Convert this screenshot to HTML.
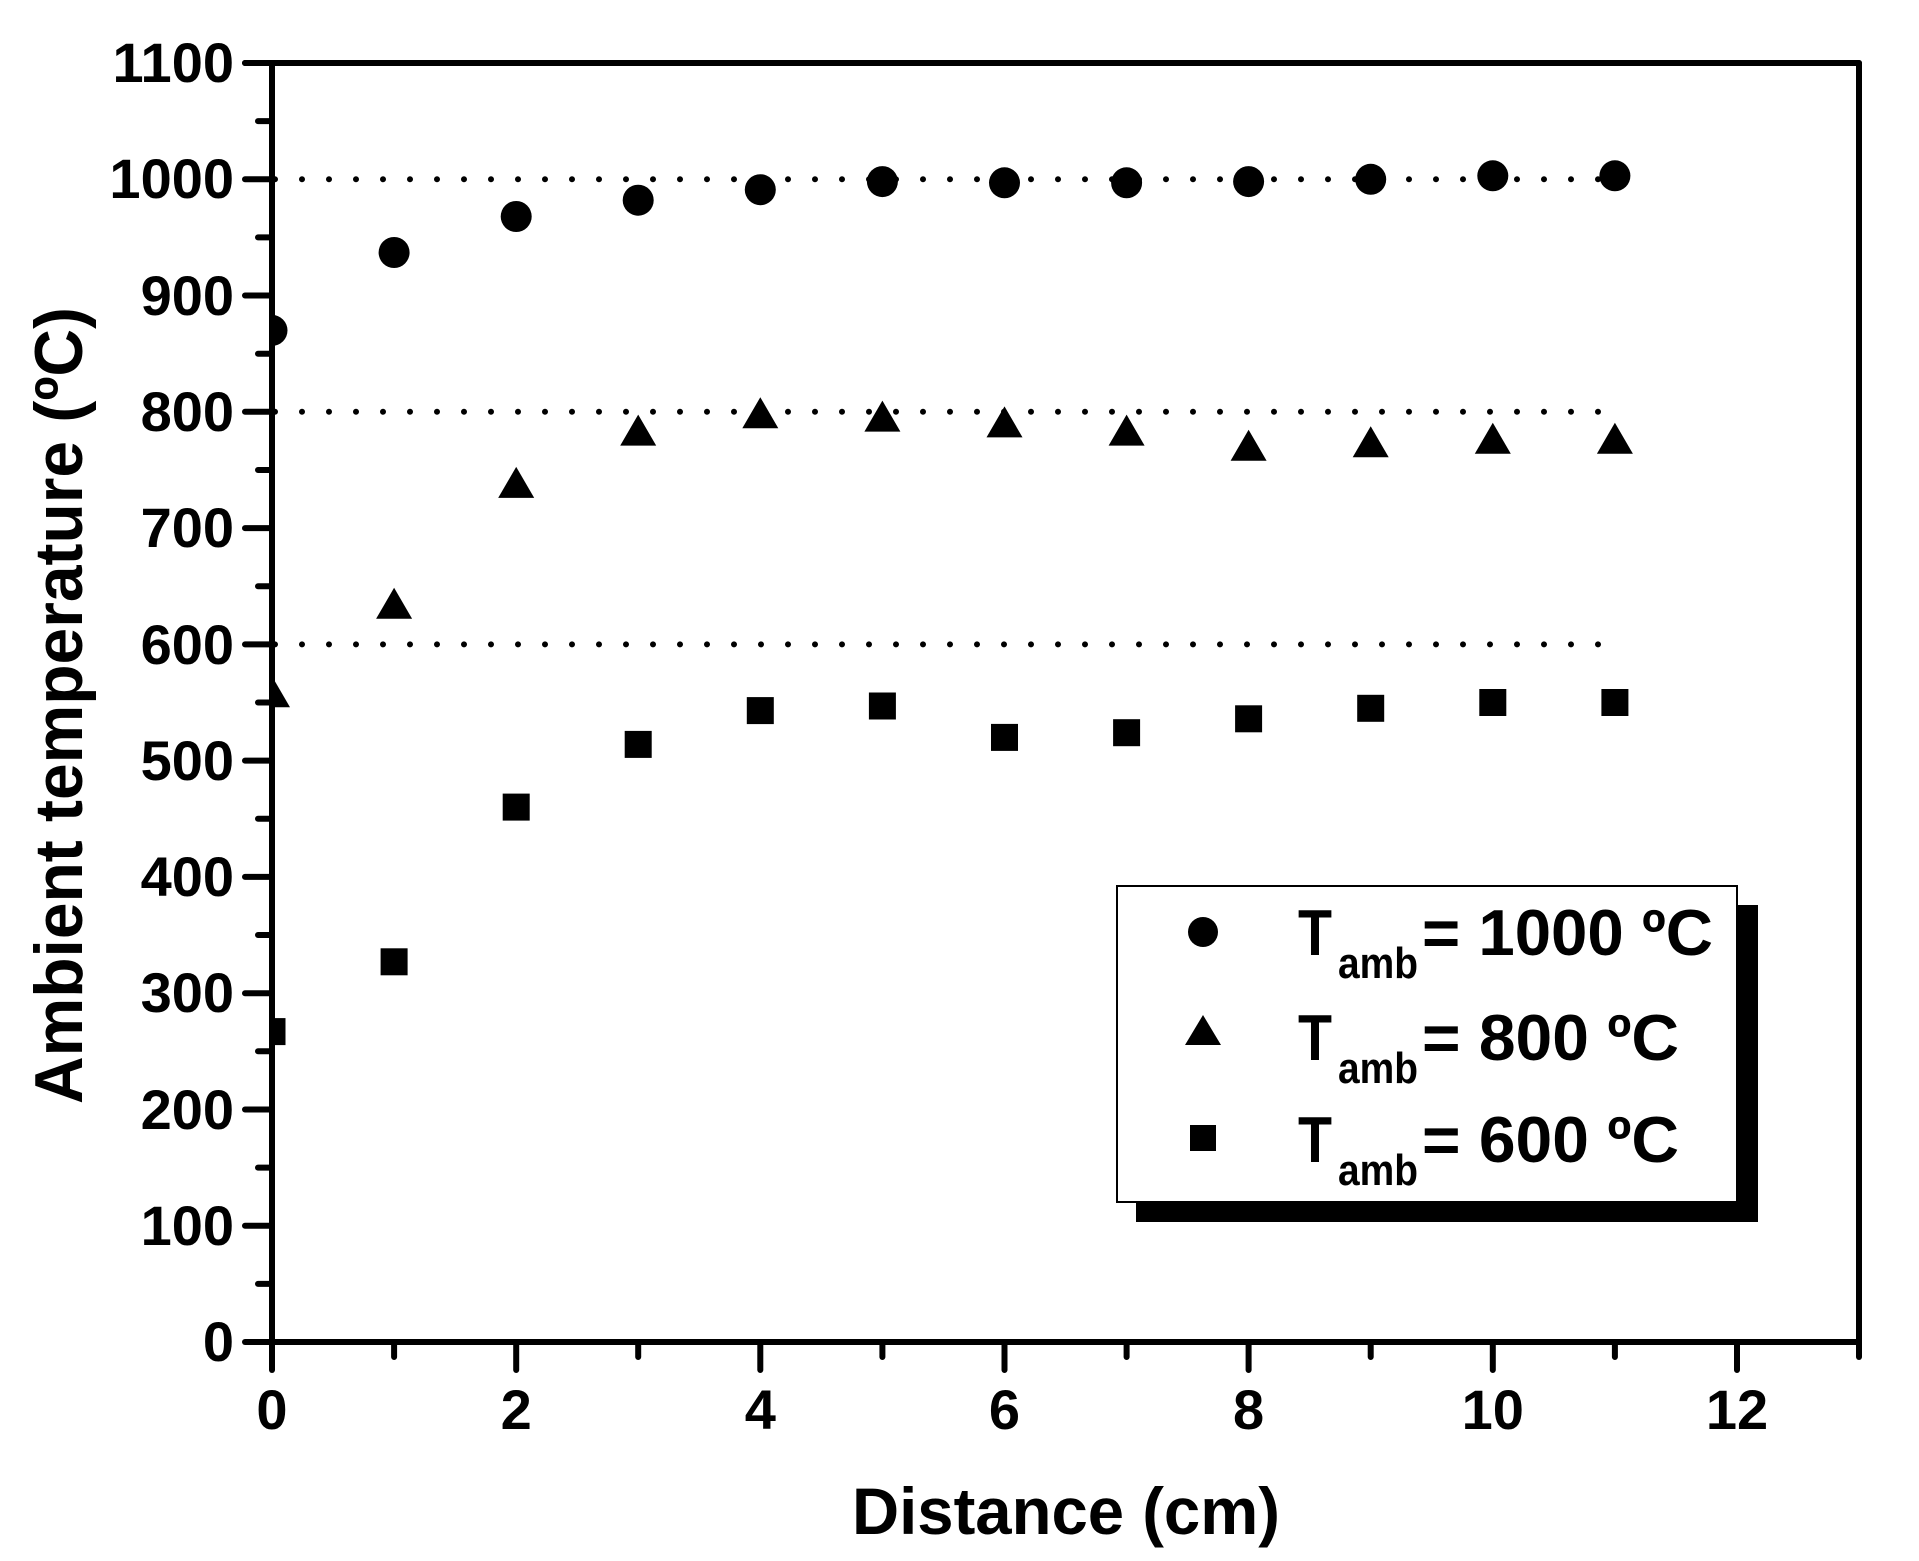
<!DOCTYPE html>
<html><head><meta charset="utf-8"><style>html,body{margin:0;padding:0;background:#fff}svg{display:block}</style></head>
<body>
<svg width="1919" height="1561" viewBox="0 0 1919 1561" xmlns="http://www.w3.org/2000/svg" font-family="'Liberation Sans', Arial, sans-serif" font-weight="bold">
<rect width="1919" height="1561" fill="#fff"/>
<defs><clipPath id="pc"><rect x="272" y="63" width="1587" height="1279"/></clipPath></defs>
<g stroke="#000" stroke-width="6" stroke-linecap="round" stroke-dasharray="0 27">
<line x1="275" y1="179.3" x2="1615" y2="179.3"/>
<line x1="275" y1="411.8" x2="1615" y2="411.8"/>
<line x1="275" y1="644.4" x2="1615" y2="644.4"/>
</g>
<g clip-path="url(#pc)" fill="#000">
<circle cx="272" cy="330.4" r="15.5"/><circle cx="394.1" cy="252.5" r="15.5"/><circle cx="516.2" cy="216.5" r="15.5"/><circle cx="638.2" cy="200.2" r="15.5"/><circle cx="760.3" cy="189.7" r="15.5"/><circle cx="882.4" cy="181.6" r="15.5"/><circle cx="1004.5" cy="182.8" r="15.5"/><circle cx="1126.6" cy="182.8" r="15.5"/><circle cx="1248.6" cy="181.6" r="15.5"/><circle cx="1370.7" cy="179.3" r="15.5"/><circle cx="1492.8" cy="175.8" r="15.5"/><circle cx="1614.9" cy="175.8" r="15.5"/>
<polygon points="254,707.2 290,707.2 272,676.2"/>
<polygon points="376.1,618.8 412.1,618.8 394.1,587.8"/>
<polygon points="498.2,497.9 534.2,497.9 516.2,466.9"/>
<polygon points="620.2,445.6 656.2,445.6 638.2,414.6"/>
<polygon points="742.3,428.2 778.3,428.2 760.3,397.2"/>
<polygon points="864.4,431.6 900.4,431.6 882.4,400.6"/>
<polygon points="986.5,437.4 1022.5,437.4 1004.5,406.4"/>
<polygon points="1108.6,445.6 1144.6,445.6 1126.6,414.6"/>
<polygon points="1230.6,460.7 1266.6,460.7 1248.6,429.7"/>
<polygon points="1352.7,457.2 1388.7,457.2 1370.7,426.2"/>
<polygon points="1474.8,453.7 1510.8,453.7 1492.8,422.7"/>
<polygon points="1596.9,453.7 1632.9,453.7 1614.9,422.7"/>
<rect x="258.5" y="1018.1" width="27" height="27"/><rect x="380.6" y="948.3" width="27" height="27"/><rect x="502.7" y="793.6" width="27" height="27"/><rect x="624.7" y="730.9" width="27" height="27"/><rect x="746.8" y="697.1" width="27" height="27"/><rect x="868.9" y="692.5" width="27" height="27"/><rect x="991" y="723.9" width="27" height="27"/><rect x="1113.1" y="719.2" width="27" height="27"/><rect x="1235.1" y="705.3" width="27" height="27"/><rect x="1357.2" y="694.8" width="27" height="27"/><rect x="1479.3" y="689" width="27" height="27"/><rect x="1601.4" y="689" width="27" height="27"/>
</g>
<g stroke="#000" stroke-width="6" stroke-linecap="round" fill="none">
<line x1="245" y1="63" x2="1859" y2="63"/>
<line x1="272" y1="63" x2="272" y2="1370"/>
<line x1="1859" y1="63" x2="1859" y2="1357"/>
<line x1="245" y1="1342" x2="1859" y2="1342"/>
<path d="M245 63H272M258 121.1H272M245 179.3H272M258 237.4H272M245 295.5H272M258 353.7H272M245 411.8H272M258 470H272M245 528.1H272M258 586.2H272M245 644.4H272M258 702.5H272M245 760.6H272M258 818.8H272M245 876.9H272M258 935H272M245 993.2H272M258 1051.3H272M245 1109.5H272M258 1167.6H272M245 1225.7H272M258 1283.9H272"/>
<path d="M394.1 1342V1357M516.2 1342V1370M638.2 1342V1357M760.3 1342V1370M882.4 1342V1357M1004.5 1342V1370M1126.6 1342V1357M1248.6 1342V1370M1370.7 1342V1357M1492.8 1342V1370M1614.9 1342V1357M1737 1342V1370"/>
</g>
<g font-size="56" text-anchor="end" fill="#000">
<text x="234" y="82">1100</text><text x="234" y="198">1000</text><text x="234" y="315">900</text><text x="234" y="431">800</text><text x="234" y="547">700</text><text x="234" y="664">600</text><text x="234" y="780">500</text><text x="234" y="896">400</text><text x="234" y="1012">300</text><text x="234" y="1129">200</text><text x="234" y="1245">100</text><text x="234" y="1361">0</text>
</g>
<g font-size="56" text-anchor="middle" fill="#000">
<text x="272" y="1429">0</text><text x="516.2" y="1429">2</text><text x="760.3" y="1429">4</text><text x="1004.5" y="1429">6</text><text x="1248.6" y="1429">8</text><text x="1492.8" y="1429">10</text><text x="1737" y="1429">12</text>
</g>
<text x="852" y="1534" font-size="66" textLength="428" lengthAdjust="spacingAndGlyphs">Distance (cm)</text>
<text transform="translate(82,1104) rotate(-90)" x="0" y="0" font-size="68" textLength="797" lengthAdjust="spacingAndGlyphs">Ambient temperature (ºC)</text>
<rect x="1136" y="905" width="622" height="317" fill="#000"/>
<rect x="1117" y="886" width="620" height="316" fill="#fff" stroke="#000" stroke-width="2"/>
<circle cx="1203" cy="932" r="15"/>
<polygon points="1185,1045 1221,1045 1203,1015"/>
<rect x="1190" y="1125" width="26" height="26"/>
<g fill="#000">
<text x="1298" y="955" font-size="65" textLength="34" lengthAdjust="spacingAndGlyphs">T</text>
<text x="1338" y="978" font-size="44" textLength="80" lengthAdjust="spacingAndGlyphs">amb</text>
<text x="1422" y="955" font-size="65" textLength="291" lengthAdjust="spacingAndGlyphs">= 1000 ºC</text>
<text x="1298" y="1060" font-size="65" textLength="34" lengthAdjust="spacingAndGlyphs">T</text>
<text x="1338" y="1083" font-size="44" textLength="80" lengthAdjust="spacingAndGlyphs">amb</text>
<text x="1422" y="1060" font-size="65" textLength="257" lengthAdjust="spacingAndGlyphs">= 800 ºC</text>
<text x="1298" y="1162" font-size="65" textLength="34" lengthAdjust="spacingAndGlyphs">T</text>
<text x="1338" y="1185" font-size="44" textLength="80" lengthAdjust="spacingAndGlyphs">amb</text>
<text x="1422" y="1162" font-size="65" textLength="257" lengthAdjust="spacingAndGlyphs">= 600 ºC</text>
</g>
</svg>
</body></html>
